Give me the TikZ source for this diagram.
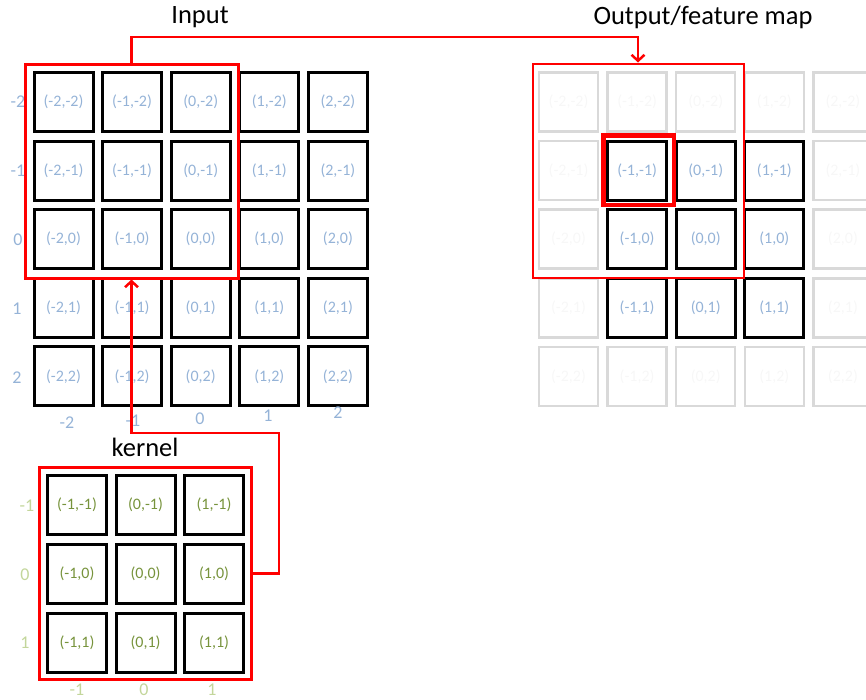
\documentclass[tikz,border=0pt]{standalone}
\usepackage{fontspec}
\setmainfont{Carlito}
\usetikzlibrary{arrows.meta}
\definecolor{inblue}{HTML}{95B3D7}
\definecolor{kgreen}{HTML}{77933C}
\definecolor{klight}{HTML}{C3D69B}
\definecolor{cellgray}{HTML}{D9D9D9}
\definecolor{faint}{HTML}{F7F7F7}
\definecolor{redl}{HTML}{FF0000}
\begin{document}
\begin{tikzpicture}[x=1pt,y=-1pt,
  cellbox/.style={draw=black, line width=3pt, minimum size=59pt, inner sep=0pt, font=\fontsize{16}{18}\selectfont},
  incell/.style={cellbox, text=inblue},
  outcell/.style={cellbox, text=inblue},
  graycell/.style={cellbox, draw=cellgray, line width=2.5pt, text=faint},
  kcell/.style={cellbox, text=kgreen},
  inaxis/.style={text=inblue, font=\fontsize{18}{20}\selectfont, inner sep=0pt},
  kaxis/.style={text=klight, font=\fontsize{18}{20}\selectfont, inner sep=0pt},
  title/.style={font=\fontsize{26.5}{30}\selectfont, inner sep=0pt},
  redbox/.style={draw=redl, color=redl, line width=3pt, inner sep=0pt},
  redconn/.style={draw=redl, line width=2.5pt, -{Straight Barb[length=6pt,width=13pt]}}
]
\useasboundingbox (0,0) rectangle (866,699);

% titles
\node[title] (tin) at (200,17) {Input};
\node[title] (tout) at (703,17) {Output/feature map};
\node[title] (tker) at (145,447) {kernel};

% input grid
\foreach \i in {-2,...,2} {
  \foreach \j in {-2,...,2} {
    \pgfmathsetmacro\cx{63.5+68.6*(\i+2)}
    \pgfmathsetmacro\cy{102+68.6*(\j+2)}
    \node[incell] (in\i\j) at (\cx,\cy) {(\i,\j)};
  }
}
% input axis labels
\node[inaxis] (ra-2) at (18,102) {-2};
\node[inaxis] (ra-1) at (18,171) {-1};
\node[inaxis] (ra0) at (18,240) {0};
\node[inaxis] (ra1) at (17,309) {1};
\node[inaxis] (ra2) at (17,378) {2};
\node[inaxis] (ca-2) at (67,423) {-2};
\node[inaxis] (ca-1) at (133,421) {-1};
\node[inaxis] (ca0) at (200,419) {0};
\node[inaxis] (ca1) at (268,416) {1};
\node[inaxis] (ca2) at (338,413) {2};

% output grid
\foreach \i in {-2,...,2} {
  \foreach \j in {-2,...,2} {
    \pgfmathsetmacro\cx{568.5+68.6*(\i+2)}
    \pgfmathsetmacro\cy{102+68.6*(\j+2)}
    \pgfmathtruncatemacro\inside{(abs(\i)<=1)&&(abs(\j)<=1)}
    \ifnum\inside=1
      \node[outcell] (out\i\j) at (\cx,\cy) {(\i,\j)};
    \else
      \node[graycell] (out\i\j) at (\cx,\cy) {(\i,\j)};
    \fi
  }
}

% kernel grid
\foreach \i in {-1,0,1} {
  \foreach \j in {-1,0,1} {
    \pgfmathsetmacro\cx{145.5+68.5*\i}
    \pgfmathsetmacro\cy{573.5+69*\j}
    \node[kcell] (k\i\j) at (\cx,\cy) {(\i,\j)};
  }
}
\node[kaxis] (kra-1) at (27,506) {-1};
\node[kaxis] (kra0) at (25,575) {0};
\node[kaxis] (kra1) at (25,643) {1};
\node[kaxis] (kca-1) at (77,690) {-1};
\node[kaxis] (kca0) at (144,690) {0};
\node[kaxis] (kca1) at (212,690) {1};

% red boxes
\node[redbox, minimum width=213pt, minimum height=214pt] (inbox) at (131.5,171) {};
\node[redbox, line width=2pt, minimum width=211pt, minimum height=214pt] (outbox) at (638,170.5) {};
\node[redbox, line width=4.5pt, minimum width=70.5pt, minimum height=69.5pt] (hbox) at (638.5,170) {};
\node[redbox, minimum width=212pt, minimum height=212pt] (kbox) at (145.5,573.5) {};

% connectors
\coordinate (oturn) at (400,37);
\coordinate (kturn) at (279,433);
\draw[redconn] (inbox.north) |- (oturn) -| (outbox.north);
\draw[redconn] (kbox.east) -| (kturn) -| (inbox.south);
\end{tikzpicture}
\end{document}
